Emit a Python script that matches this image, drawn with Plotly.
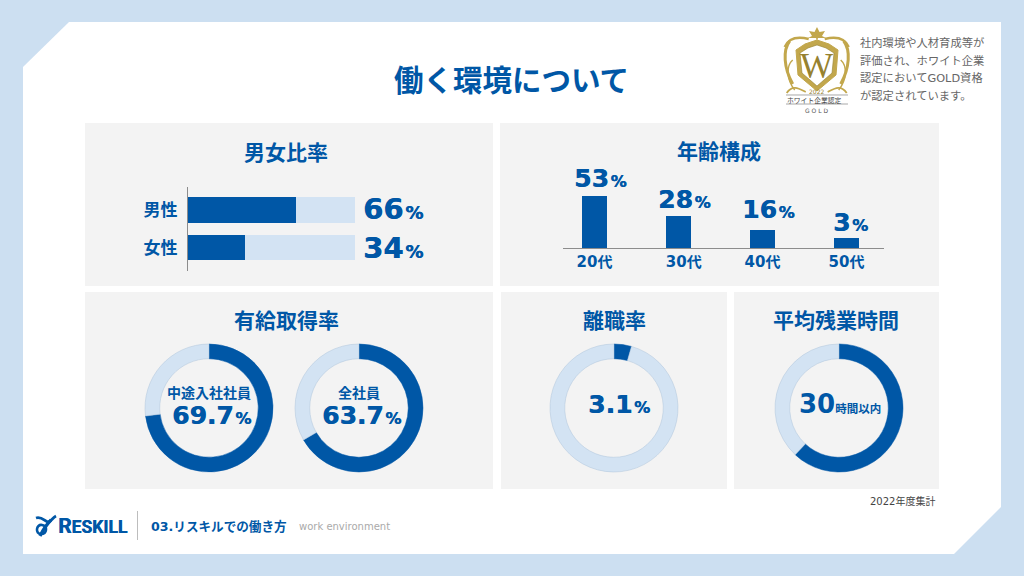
import plotly.graph_objects as go

W, H = 1024, 576
BLUE = "#0057A6"
LIGHT = "#D3E3F3"
PAGE = "#CCDFF1"
PANEL = "#F3F3F3"
GOLD = "#C2A74C"
DARK_GOLD = "#96812F"
FONT = "DejaVu Sans, Noto Sans CJK JP, sans-serif"
CJK = "Noto Sans CJK JP, sans-serif"

# values
gender_labels = ["男性", "女性"]
gender_text = ["66", "34"]
gender_bars = [64.7, 34.1]

age_labels = ["20代", "30代", "40代", "50代"]
age_ticks = ["20代", "\u00a0\u00a030代", "40代", "50代"]
age_text = ["53", "28", "16", "3"]
age_bars = [52, 32, 18, 10]

# drawn share of each ring (the rings do not quite follow their captions)
ring_names = ["中途入社社員", "全社員", "離職率", "平均残業時間"]
ring_values = [73.0, 66.7, 4.4, 62.0]
ring_centers = [209, 359, 614, 839]

note_lines = ["社内環境や人材育成等が", "評価され、ホワイト企業", "認定においてGOLD資格", "が認定されています。"]


def px(x):
    return x / W


def py(y):
    return 1 - y / H


def poly(points, close=True):
    path = "M " + " L ".join(f"{px(x):.5f},{py(y):.5f}" for x, y in points)
    return path + (" Z" if close else "")


def curve(start, *segs):
    """cubic path in pixel coordinates"""
    path = f"M {px(start[0]):.5f},{py(start[1]):.5f}"
    for a, b, c in segs:
        path += f" C {px(a[0]):.5f},{py(a[1]):.5f} {px(b[0]):.5f},{py(b[1]):.5f} {px(c[0]):.5f},{py(c[1]):.5f}"
    return path


shapes = []


def add_path(path, fill=None, line=None, width=0):
    shapes.append(dict(type="path", xref="paper", yref="paper", path=path, layer="below",
                       fillcolor=fill or "rgba(0,0,0,0)",
                       line=dict(color=line or "rgba(0,0,0,0)", width=width)))


def add_rect(x0, y0, x1, y1, fill):
    shapes.append(dict(type="rect", xref="paper", yref="paper", layer="below",
                       x0=px(x0), x1=px(x1), y0=py(y1), y1=py(y0),
                       fillcolor=fill, line=dict(width=0)))


annotations = []


def label(text, x, y, size, color=BLUE, bold=True, anchor="center", family=FONT, shadow=None):
    font = dict(family=family, size=size, color=color, weight=700 if bold else 400)
    if shadow:
        font["shadow"] = shadow
    annotations.append(dict(text=text, xref="paper", yref="paper", x=px(x), y=py(y), showarrow=False,
                            xanchor=anchor, yanchor="middle", borderpad=0, font=font))


def value(num, unit, x, y, size, unit_size):
    # hair space keeps the unit a little away from the digits
    label(f"{num}<span style='font-size:{unit_size}px'>\u200a{unit}</span>", x, y, size, anchor="left",
          shadow=f"0.5px 0 0 {BLUE}")


# page, white sheet with cut corners, panels
add_path(poly([(23, 67), (69, 22), (1001, 22), (1001, 507), (954, 554), (23, 554)]), fill="white")
add_rect(85, 123, 493, 286, PANEL)
add_rect(500, 123, 939, 286, PANEL)
add_rect(85, 292, 493, 489, PANEL)
add_rect(501, 292, 727, 489, PANEL)
add_rect(734, 292, 939, 489, PANEL)

# crest: scrolls on both sides, shield, fleur on top
for side in (-1, 1):
    cx = 816.7
    add_path(curve((cx + side * 8, 39), ((cx + side * 20, 36), (cx + side * 28, 38), (cx + side * 32, 47))),
             line=GOLD, width=2.5)
    add_path(curve((cx + side * 27, 41), ((cx + side * 34, 50), (cx + side * 33, 68), (cx + side * 24, 84))),
             line=GOLD, width=3)
    add_path(curve((cx + side * 24, 60), ((cx + side * 31, 66), (cx + side * 30, 80), (cx + side * 22, 90))),
             line=GOLD, width=1.5)
    add_path(curve((cx + side * 30, 93), ((cx + side * 24, 84), (cx + side * 17, 89), (cx + side * 11, 92))),
             line=GOLD, width=1.8)
add_path(poly([(796, 50), (805, 44), (817, 40), (829, 44), (838, 50), (836, 75), (817, 91), (798, 75)]),
         fill=GOLD, line=GOLD, width=1)
add_path(poly([(800, 53), (808, 48), (817, 45), (826, 48), (834, 53), (832, 73), (817, 86), (802, 73)]),
         fill="white", line=DARK_GOLD, width=0.6)
add_path(poly([(817, 27), (819.5, 32), (825, 31), (822, 36), (826, 38), (818, 38), (817, 41), (816, 38),
               (808, 38), (812, 36), (809, 31), (814.5, 32)]), fill=GOLD)
add_path(poly([(786, 95), (848, 95)], close=False), line="#A8A8A8", width=1)
add_path(poly([(786, 104), (848, 104)], close=False), line="#A8A8A8", width=1)
label("W", 816.7, 66, 35, color=DARK_GOLD, bold=False, family="Liberation Serif")
label("2022", 816.7, 91.5, 6, color=DARK_GOLD, bold=False)
label("ホワイト企業認定", 814.5, 99.5, 6.8, color="#444444", bold=False, family=CJK)
label("G O L D", 816.7, 110, 6, color="#555555", bold=False)

# footer logo
add_path(curve((36, 518), ((42, 516), (45, 522), (48, 522)), ((51, 522), (52, 518), (56, 516))), line=BLUE, width=2.8)
add_path(curve((51, 520), ((47, 524), (43, 530), (40, 536))), line=BLUE, width=3.2)
add_path(curve((42, 525), ((36, 524), (35, 534), (41, 534)), ((47, 534), (48, 526), (42, 525))), line=BLUE, width=2.6)
label("<span style='font-size:21px'>R</span>ESKILL", 56.5, 525.5, 17.5, family="Roboto", anchor="left",
      shadow=f"0.4px 0 0 {BLUE}")
add_path(poly([(137.5, 511), (137.5, 540)], close=False), line="#BDBDBD", width=1)
label("03.リスキルでの働き方", 149.5, 526, 12.6, anchor="left")
label("work environment", 297.5, 526.5, 10, color="#AAAAAA", bold=False, anchor="left")
label("2022年度集計", 936, 501, 10, color="#444444", bold=False, anchor="right")

# heading and note
label("働く環境について", 511, 77.5, 29.5, family=CJK)
for line_text, line_y in zip(note_lines, [43, 61, 78, 96]):
    label(line_text, 859, line_y, 11.3, color="#666666", bold=False, anchor="left")

# panel titles
label("男女比率", 286, 153, 21)
label("年齢構成", 719, 152, 21)
label("有給取得率", 286.5, 321, 21)
label("離職率", 614, 321, 21)
label("平均残業時間", 836, 321, 21)

fig = go.Figure()

# gender bars: dark share on a light track
fig.add_trace(go.Bar(y=gender_labels, x=gender_bars, orientation="h", marker=dict(color=BLUE, line=dict(width=0)),
                     xaxis="x", yaxis="y", showlegend=False))
fig.add_trace(go.Bar(y=gender_labels, x=[100 - v for v in gender_bars], orientation="h",
                     marker=dict(color=LIGHT, line=dict(width=0)), xaxis="x", yaxis="y", showlegend=False))
for num, y in zip(gender_text, [209, 247.5]):
    value(num, "%", 362, y, 29, 18)

# age bars
fig.add_trace(go.Bar(x=age_labels, y=age_bars, marker=dict(color=BLUE, line=dict(width=0)), width=0.298,
                     xaxis="x2", yaxis="y2", showlegend=False))
for num, x, y in zip(age_text, [573, 657, 741, 832], [179, 199, 210, 222]):
    value(num, "%", x, y, 25, 16)

# rings
for name, val, cx in zip(ring_names, ring_values, ring_centers):
    fig.add_trace(go.Pie(values=[val, 100 - val], labels=[name, "残り"], sort=False, direction="clockwise",
                         rotation=0, hole=0.77, textinfo="none", showlegend=False,
                         marker=dict(colors=[BLUE, LIGHT], line=dict(color=["#0057A6", "#AFC4DA"], width=0.5)),
                         domain=dict(x=[px(cx - 64), px(cx + 64)], y=[py(472), py(344)])))

label("中途入社社員", 209, 392, 14, family=CJK)
label("全社員", 359, 392, 14, family=CJK)
value("69.7", "%", 171, 415.5, 25, 16)
value("63.7", "%", 321, 415.5, 25, 16)
value("3.1", "%", 587, 404, 25, 16)
label("30<span style='font-size:11.5px'>時間以内</span>", 798, 404, 26, anchor="left")

fig.update_layout(
    width=W, height=H, margin=dict(l=0, r=0, t=0, b=0), autosize=False,
    paper_bgcolor=PAGE, plot_bgcolor="rgba(0,0,0,0)",
    barmode="stack", bargap=0.32, shapes=shapes, annotations=annotations,
    font=dict(family=FONT),
    xaxis=dict(domain=[px(188), px(355)], range=[0, 100], visible=False, fixedrange=True),
    yaxis=dict(domain=[py(271), py(187)], range=[1.62, -0.61], type="category", categoryorder="array",
               categoryarray=gender_labels, showline=True, linecolor="#8C8C8C", linewidth=1, showgrid=False,
               ticks="outside", ticklen=6, tickcolor="rgba(0,0,0,0)", zeroline=False, fixedrange=True,
               tickfont=dict(family=CJK, size=17, color=BLUE, weight=700)),
    xaxis2=dict(domain=[px(563), px(884)], range=[-0.375, 3.446], type="category", categoryorder="array",
                categoryarray=age_labels, tickvals=age_labels, ticktext=age_ticks, anchor="y2", showline=True,
                linecolor="#8C8C8C", linewidth=1, showgrid=False, ticks="", fixedrange=True,
                tickfont=dict(family=FONT, size=15, color=BLUE, weight=700)),
    yaxis2=dict(domain=[py(248), py(188)], range=[0, 60], anchor="x2", visible=False, fixedrange=True),
)

fig.write_html("out.html", config=dict(displayModeBar=False),
               post_script="document.body.style.margin='0';document.documentElement.style.overflow='hidden';")
